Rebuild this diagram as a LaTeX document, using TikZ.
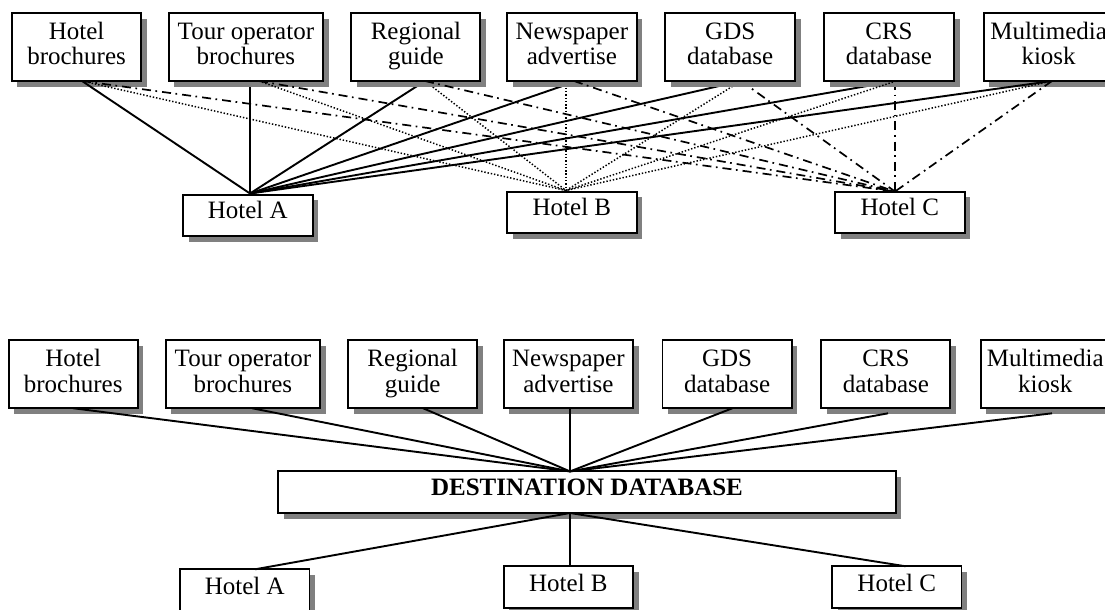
\documentclass[tikz,border=0pt]{standalone}
\usepackage{fontspec}
\setmainfont{Liberation Serif}
\usetikzlibrary{shadows}
\pgfdeclarelayer{under}
\pgfsetlayers{under,main}
\tikzset{
  x=1pt,y=-1pt,
  box/.style={draw=black,line width=1.9pt,fill=white,inner sep=0pt,outer sep=0pt,align=center,
    font=\fontsize{25}{25.7}\selectfont,text depth=6pt,
    general shadow={fill=black!50,shadow xshift=5.6pt,shadow yshift=-5.6pt}},
  tall/.style={box,minimum height=67.7pt,text height=41.6pt},
  low/.style={box,minimum height=41.3pt,minimum width=129.5pt,text height=12.4pt},
  solid line/.style={draw=black,line width=1.9pt},
  dot line/.style={draw=black,line width=1.5pt,dash pattern=on 1.4pt off 1.9pt},
  dd line/.style={draw=black,line width=1.7pt,dash pattern=on 9pt off 4.5pt on 1.7pt off 5pt},
}
\begin{document}
\begin{tikzpicture}
\useasboundingbox (0,0) rectangle (1105,610);
% upper diagram
\node[tall,minimum width=129.6pt] (ua) at (76.6,47.2) {Hotel\\brochures};
\node[tall,minimum width=154.6pt] (ub) at (245.9,47.2) {Tour operator\\brochures};
\node[tall,minimum width=129pt] (uc) at (415.9,47.2) {Regional\\guide};
\node[tall,minimum width=129.8pt] (ud) at (571.9,47.2) {Newspaper\\advertise};
\node[tall,minimum width=129.6pt] (ue) at (730.2,47.2) {GDS\\database};
\node[tall,minimum width=130pt] (uf) at (889,47.2) {CRS\\database};
\node[tall,minimum width=130pt] (ug) at (1048.6,47.2) {Multimedia\\kiosk};
\node[low] (ha) at (247.8,215.5) {Hotel A};
\node[low] (hb) at (571.9,212.3) {Hotel B};
\node[low] (hc) at (899.8,212.3) {Hotel C};
\coordinate (a1) at (82,81);
\coordinate (b1) at (250,81);
\coordinate (b2) at (259,81);
\coordinate (c1) at (425,81);
\coordinate (d1) at (577,81);
\coordinate (d2) at (566,81);
\coordinate (d3) at (574,81);
\coordinate (e1) at (741,81);
\coordinate (f1) at (896,81);
\coordinate (f2) at (895,81);
\coordinate (g1) at (1052,81);
\coordinate (pa) at (250,193.5);
\coordinate (pb) at (566,190.5);
\coordinate (pc) at (895,191.5);
\draw[solid line] (a1) -- (pa);
\draw[solid line] (g1) -- (pa);
\draw[dot line] (a1) -- (pb);
\draw[dot line] (b2) -- (pb);
\draw[dot line] (f1) -- (pb);
\draw[dot line] (g1) -- (pb);
\draw[dd line] (a1) -- (pc);
\draw[dd line] (b2) -- (pc);
\draw[dd line] (c1) -- (pc);
\draw[dd line] (d3) -- (pc);
\draw[dd line] (g1) -- (pc);
\begin{pgfonlayer}{under}
\draw[solid line] (b1) -- (pa);
\draw[solid line] (c1) -- (pa);
\draw[solid line] (d1) -- (pa);
\draw[solid line] (e1) -- (pa);
\draw[solid line] (f1) -- (pa);
\draw[dot line] (c1) -- (pb);
\draw[dot line] (d2) -- (pb);
\draw[dot line] (e1) -- (pb);
\draw[dd line] (e1) -- (pc);
\draw[dd line] (f2) -- (pc);
\end{pgfonlayer}
% lower diagram
\node[tall,minimum width=129.3pt] (la) at (73.2,374.2) {Hotel\\brochures};
\node[tall,minimum width=154.3pt] (lb) at (242.9,374.2) {Tour operator\\brochures};
\node[tall,minimum width=128.8pt] (lc) at (412.6,374.2) {Regional\\guide};
\node[tall,minimum width=129.6pt] (ld) at (568.4,374.2) {Newspaper\\advertise};
\node[tall,minimum width=129.3pt] (le) at (727.1,374.2) {GDS\\database};
\node[tall,minimum width=129pt] (lf) at (885.9,374.2) {CRS\\database};
\node[tall,minimum width=129.3pt] (lg) at (1045.3,374.2) {Multimedia\\kiosk};
\node[box,minimum width=617.5pt,minimum height=41.7pt,text height=13pt,font=\fontsize{25}{25.7}\selectfont\bfseries] (db) at (587,492.2) {DESTINATION DATABASE};
\node[low,text height=14pt] (ka) at (244.7,590) {Hotel A};
\node[low,text height=14.5pt] (kb) at (568.4,587) {Hotel B};
\node[low,text height=14.5pt] (kc) at (896.7,587) {Hotel C};
\coordinate (la1) at (73,408.2);
\coordinate (lb1) at (252,408.2);
\coordinate (lc1) at (423,408.2);
\coordinate (ld1) at (570,408.2);
\coordinate (le1) at (732.5,408.2);
\coordinate (lf1) at (888,413.3);
\coordinate (lg1) at (1052,413.3);
\coordinate (dt) at (570,471.4);
\coordinate (dm) at (570,513);
\coordinate (ka1) at (255,569.3);
\coordinate (kb1) at (570,566.3);
\coordinate (kc1) at (905.7,566.3);
\draw[solid line] (la1) -- (dt);
\draw[solid line] (lb1) -- (dt);
\draw[solid line] (lc1) -- (dt);
\draw[solid line] (ld1) -- (dt);
\draw[solid line] (le1) -- (dt);
\draw[solid line] (lf1) -- (dt);
\draw[solid line] (lg1) -- (dt);
\draw[solid line] (dm) -- (ka1);
\draw[solid line] (dm) -- (kb1);
\draw[solid line] (dm) -- (kc1);
\end{tikzpicture}
\end{document}
